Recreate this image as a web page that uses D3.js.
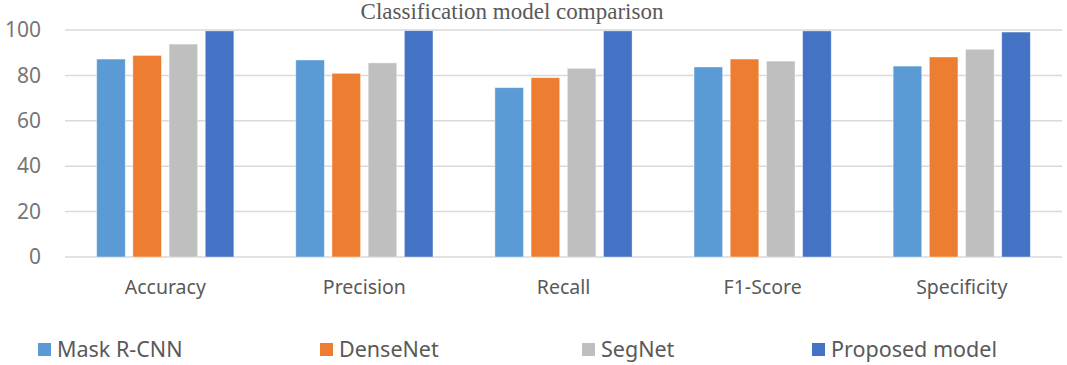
<!DOCTYPE html>
<html><head><meta charset="utf-8">
<script src="https://cdn.jsdelivr.net/npm/d3@7"></script>
<style>body{margin:0;background:#fff}svg{display:block}</style>
</head><body><svg id="c" width="1067" height="365"></svg>
<script>
const categories = ["Accuracy","Precision","Recall","F1-Score","Specificity"];
const seriesNames = ["Mask R-CNN","DenseNet","SegNet","Proposed model"];
const maskRcnn = [87.2, 86.8, 74.6, 83.7, 84.1];
const denseNet = [88.8, 80.9, 79.0, 87.2, 88.1];
const segNet = [93.8, 85.5, 83.1, 86.3, 91.5];
const proposed = [99.6, 99.7, 99.6, 99.6, 99.1];
const yTicks = [0, 20, 40, 60, 80, 100];
const colors = ["#5B9BD5","#ED7D31","#BFBFBF","#4472C4"];
const values = [maskRcnn, denseNet, segNet, proposed];

const svg = d3.select("#c");
const x0 = d3.scaleBand().domain(categories).range([65, 1062]).paddingInner(0.311).paddingOuter(0.159);
const x1 = d3.scaleBand().domain(seriesNames).range([0, x0.bandwidth()]).paddingInner(0.21).paddingOuter(0);
const y = d3.scaleLinear().domain([0, 100]).range([257, 30]);

// gridlines
svg.append("g").selectAll("line").data(yTicks).join("line")
  .attr("x1", 65).attr("x2", 1062)
  .attr("y1", d => y(d)).attr("y2", d => y(d))
  .attr("stroke", "#d9d9d9").attr("stroke-width", 1.5);

// y labels
const yAxis = d3.axisLeft(y).tickValues(yTicks).tickSize(0).tickPadding(0);
const ya = svg.append("g").attr("transform", "translate(41,0)").call(yAxis);
ya.select(".domain").remove();
ya.selectAll("text").attr("font-family", "Noto Sans, sans-serif").attr("font-size", 21).attr("fill", "#767676");

// bars
const groups = svg.append("g").selectAll("g").data(categories).join("g")
  .attr("transform", d => `translate(${x0(d)},0)`);
groups.selectAll("rect").data((c, i) => seriesNames.map((s, j) => ({s, v: values[j][i], j})))
  .join("rect")
  .attr("x", d => x1(d.s)).attr("width", x1.bandwidth())
  .attr("y", d => y(d.v)).attr("height", d => y(0) - y(d.v))
  .attr("fill", d => colors[d.j]).attr("stroke", "#fff").attr("stroke-opacity", 0.5).attr("stroke-width", 0.8);

// x labels
const xAxis = d3.axisBottom(x0).tickSize(0).tickPadding(0);
const xa = svg.append("g").attr("transform", "translate(0,294)").call(xAxis);
xa.select(".domain").remove();
xa.selectAll("text").attr("font-family", "Noto Sans, sans-serif").attr("font-size", 19.5).attr("fill", "#595959").attr("dy", "0").attr("y", 0);

// title
svg.append("text").attr("x", 512).attr("y", 19).attr("text-anchor", "middle")
  .attr("font-family", "Liberation Serif, serif").attr("font-size", 23).attr("fill", "#595959")
  .text("Classification model comparison");

// legend
const legendX = [38, 320, 582, 812];
const lg = svg.append("g").selectAll("g").data(seriesNames).join("g")
  .attr("transform", (d, i) => `translate(${legendX[i]},0)`);
lg.append("rect").attr("x", 0).attr("y", 343).attr("width", 13).attr("height", 13).attr("fill", (d, i) => colors[i]);
lg.append("text").attr("x", 19).attr("y", 357).attr("font-family", "Noto Sans, sans-serif").attr("font-size", 21.5).attr("fill", "#595959").text(d => d);
</script></body></html>
